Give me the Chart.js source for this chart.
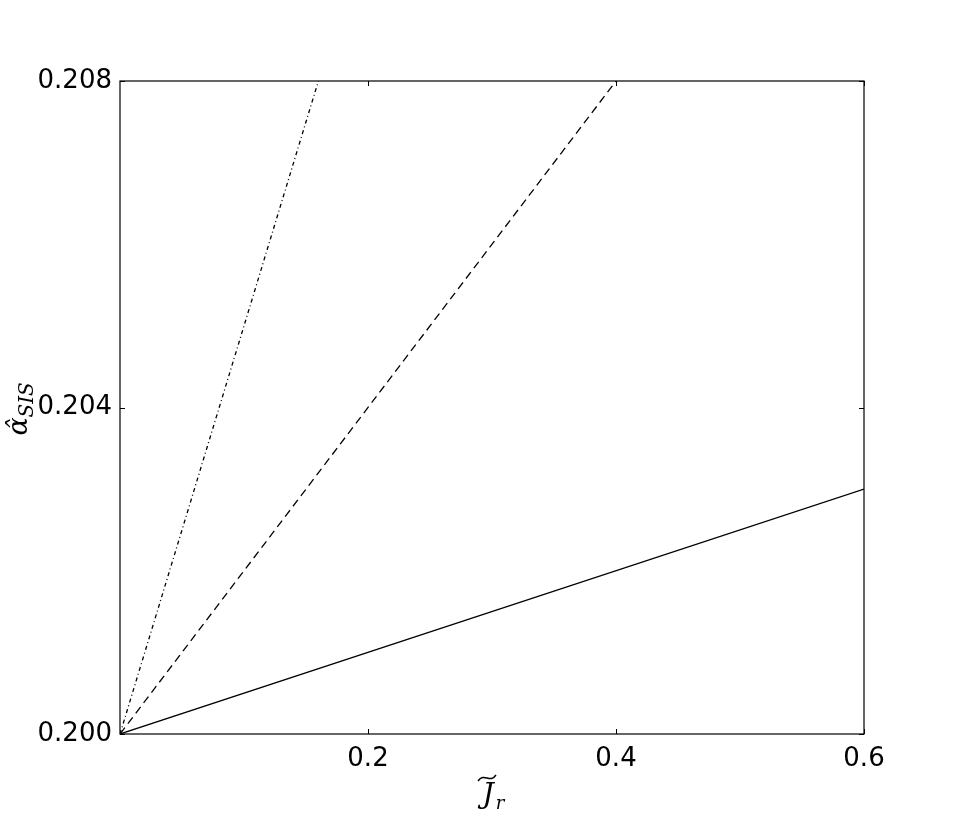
<!DOCTYPE html>
<html>
<head>
<meta charset="utf-8">
<script src="https://cdn.jsdelivr.net/npm/chart.js@4"></script>
<style>
  html, body { margin: 0; padding: 0; background: #fff; }
  #wrap { width: 960px; height: 817px; }
</style>
</head>
<body>
<div id="wrap"><canvas id="c" width="960" height="817"></canvas></div>
<script>
// line end points
const solidX = [0, 0.6];
const solidY = [0.200, 0.203];
const dashedX = [0, 0.4];
const dashedY = [0.200, 0.208];
const dashDotX = [0, 0.16];
const dashDotY = [0.200, 0.208];

const xTicks = [0.2, 0.4, 0.6];
const yTicks = [0.200, 0.204, 0.208];
const xTickLabels = ['0.2', '0.4', '0.6'];
const yTickLabels = ['0.200', '0.204', '0.208'];

const toPoints = (xs, ys) => xs.map((x, i) => ({ x: x, y: ys[i] }));

// frame, inward ticks, axis titles
const framePlugin = {
  id: 'frame',
  afterDraw(chart) {
    const ctx = chart.ctx;
    const a = chart.chartArea;
    const xs = chart.scales.x, ys = chart.scales.y;
    ctx.save();
    ctx.strokeStyle = '#000';
    ctx.lineWidth = 1.2;
    ctx.strokeRect(a.left, a.top, a.right - a.left, a.bottom - a.top);

    ctx.lineWidth = 1;
    const len = 5;
    xTicks.forEach(v => {
      const px = Math.round(xs.getPixelForValue(v)) + 0.5;
      ctx.beginPath();
      ctx.moveTo(px, a.bottom); ctx.lineTo(px, a.bottom - len);
      ctx.moveTo(px, a.top); ctx.lineTo(px, a.top + len);
      ctx.stroke();
    });
    yTicks.forEach(v => {
      const py = Math.round(ys.getPixelForValue(v)) + 0.5;
      ctx.beginPath();
      ctx.moveTo(a.left, py); ctx.lineTo(a.left + len, py);
      ctx.moveTo(a.right, py); ctx.lineTo(a.right - len, py);
      ctx.stroke();
    });

    // x title: widetilde J, subscript r
    ctx.fillStyle = '#000';
    ctx.textBaseline = 'alphabetic';
    const cx = (a.left + a.right) / 2;
    ctx.font = 'italic 28px "DejaVu Serif"';
    ctx.textAlign = 'center';
    ctx.fillText('J', cx - 4, 803);
    ctx.font = 'italic 18px "DejaVu Serif"';
    ctx.fillText('r', cx + 8, 809);
    ctx.beginPath();
    ctx.lineWidth = 1.4;
    ctx.moveTo(cx - 14, 781);
    ctx.bezierCurveTo(cx - 8, 772, cx - 2, 784, cx + 4, 775);
    ctx.stroke();

    // y title: hat alpha, subscript SIS (rotated)
    ctx.translate(27, (a.top + a.bottom) / 2);
    ctx.rotate(-Math.PI / 2);
    ctx.textAlign = 'left';
    ctx.font = 'italic 27px "DejaVu Serif"';
    ctx.fillText('\u03B1\u0302', -28, 0);
    ctx.font = 'italic 20px "DejaVu Serif"';
    ctx.fillText('SIS', -10, 6);
    ctx.restore();
  }
};

new Chart(document.getElementById('c'), {
  type: 'line',
  data: {
    datasets: [
      { data: toPoints(solidX, solidY), borderColor: '#000', borderWidth: 1.3, pointRadius: 0, fill: false },
      { data: toPoints(dashedX, dashedY), borderColor: '#000', borderWidth: 1.3, borderDash: [8, 5], pointRadius: 0, fill: false },
      { data: toPoints(dashDotX, dashDotY), borderColor: '#000', borderWidth: 1.3, borderDash: [4, 3, 1, 3], pointRadius: 0, fill: false }
    ]
  },
  options: {
    responsive: false,
    animation: false,
    layout: { padding: { left: 0, right: 96, top: 81, bottom: 0 } },
    plugins: { legend: { display: false }, tooltip: { enabled: false } },
    scales: {
      x: {
        type: 'linear', min: 0, max: 0.6,
        grid: { display: false }, border: { display: false },
        afterBuildTicks: s => { s.ticks = xTicks.map(v => ({ value: v })); },
        afterFit: s => { s.height = 83; },
        ticks: {
          color: '#000', padding: 2, maxRotation: 0,
          font: { family: 'DejaVu Sans', size: 26 },
          callback: (v) => xTickLabels[xTicks.indexOf(v)]
        }
      },
      y: {
        type: 'linear', min: 0.200, max: 0.208,
        grid: { display: false }, border: { display: false },
        afterBuildTicks: s => { s.ticks = yTicks.map(v => ({ value: v })); },
        afterFit: s => { s.width = 120; },
        ticks: {
          color: '#000', padding: 0,
          font: { family: 'DejaVu Sans', size: 26 },
          callback: (v) => yTickLabels[yTicks.indexOf(v)]
        }
      }
    }
  },
  plugins: [framePlugin]
});
</script>
</body>
</html>
